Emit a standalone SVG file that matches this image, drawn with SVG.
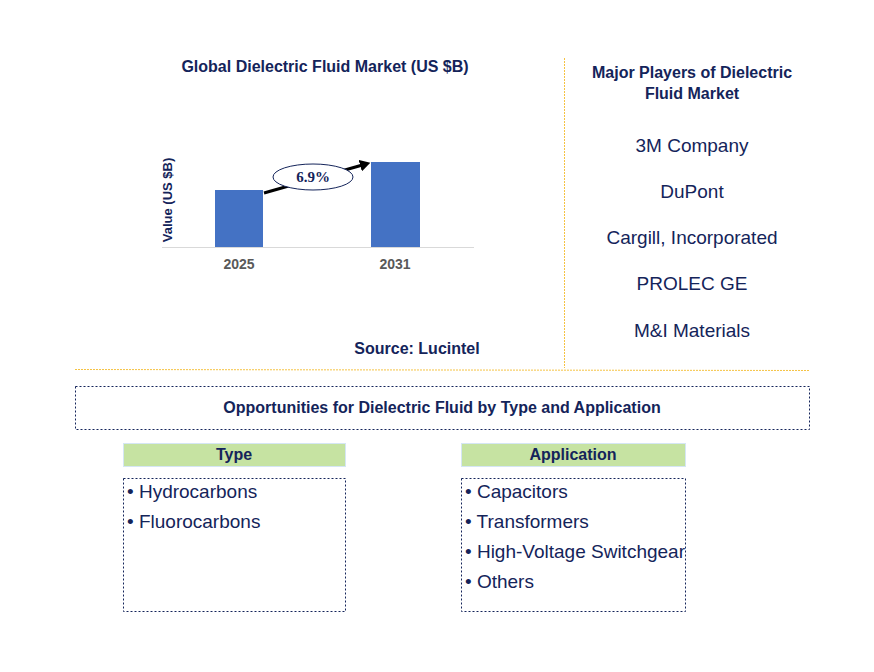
<svg xmlns="http://www.w3.org/2000/svg" width="874" height="672" viewBox="0 0 874 672">
<style>
text{font-family:"Liberation Sans",Arial,sans-serif;fill:#14245a}
.b{font-weight:bold}
.t15{font-size:16px;font-weight:bold}
.item{font-size:19px}
.dot{fill:none;stroke:#14245a;stroke-width:1;stroke-dasharray:2,2}
.gold{stroke:#f5c242;stroke-width:1;stroke-dasharray:2,1;fill:none}
.hdr{fill:#c6e3a2;stroke:#d5e6f4;stroke-width:1}
</style>
<defs>
<marker id="ah" markerWidth="4" markerHeight="4" refX="2" refY="2" orient="auto" markerUnits="strokeWidth">
<path d="M0,0 L3.5,2 L0,4 z" fill="#000"/>
</marker>
</defs>
<rect width="874" height="672" fill="#fff"/>

<g id="chart">
<text x="325" y="72" text-anchor="middle" class="t15">Global Dielectric Fluid Market (US $B)</text>
<line x1="162" y1="247.5" x2="474" y2="247.5" stroke="#d9d9d9" stroke-width="1"/>
<rect x="215" y="190" width="48" height="57" fill="#4472c4"/>
<rect x="371" y="162" width="49" height="85" fill="#4472c4"/>
<text x="239" y="269" text-anchor="middle" font-size="14" class="b" style="fill:#595959">2025</text>
<text x="395" y="269" text-anchor="middle" font-size="14" class="b" style="fill:#595959">2031</text>
<text transform="translate(172,200) rotate(-90)" text-anchor="middle" font-size="13" class="b">Value (US $B)</text>
</g>

<g id="connectors">
<line x1="264" y1="193" x2="366" y2="164" stroke="#000" stroke-width="3" marker-end="url(#ah)"/>
</g>

<g id="cagr">
<ellipse cx="313" cy="177" rx="40" ry="13" fill="#fff" stroke="#14245a" stroke-width="1"/>
<text x="313" y="182" text-anchor="middle" font-size="15" style="font-family:'Liberation Serif','Times New Roman',serif;font-weight:bold">6.9%</text>
</g>

<g id="source">
<text x="417" y="354" text-anchor="middle" class="t15">Source: Lucintel</text>
</g>

<g id="dividers">
<line x1="564.5" y1="58" x2="564.5" y2="368" class="gold"/>
<line x1="75" y1="369.5" x2="810" y2="370.5" class="gold"/>
</g>

<g id="players">
<text x="692" y="78" text-anchor="middle" class="t15">Major Players of Dielectric</text>
<text x="692" y="99" text-anchor="middle" class="t15">Fluid Market</text>
<text x="692" y="152" text-anchor="middle" class="item">3M Company</text>
<text x="692" y="198" text-anchor="middle" class="item">DuPont</text>
<text x="692" y="244" text-anchor="middle" class="item">Cargill, Incorporated</text>
<text x="692" y="290" text-anchor="middle" class="item">PROLEC GE</text>
<text x="692" y="337" text-anchor="middle" class="item">M&amp;I Materials</text>
</g>

<g id="opportunities">
<rect x="75.5" y="386.5" width="734" height="43" class="dot"/>
<text x="442" y="413" text-anchor="middle" class="t15">Opportunities for Dielectric Fluid by Type and Application</text>
</g>

<g id="type">
<rect x="123.5" y="443.5" width="222" height="23" class="hdr"/>
<text x="234" y="460" text-anchor="middle" class="t15">Type</text>
<rect x="123.5" y="478.5" width="222" height="133" class="dot"/>
<text x="127" y="498" class="item">• Hydrocarbons</text>
<text x="127" y="528" class="item">• Fluorocarbons</text>
</g>

<g id="application">
<rect x="461.5" y="443.5" width="224" height="23" class="hdr"/>
<text x="573" y="460" text-anchor="middle" class="t15">Application</text>
<rect x="461.5" y="478.5" width="224" height="133" class="dot"/>
<text x="465" y="498" class="item">• Capacitors</text>
<text x="465" y="528" class="item">• Transformers</text>
<text x="465" y="558" class="item">• High-Voltage Switchgear</text>
<text x="465" y="588" class="item">• Others</text>
</g>
</svg>
